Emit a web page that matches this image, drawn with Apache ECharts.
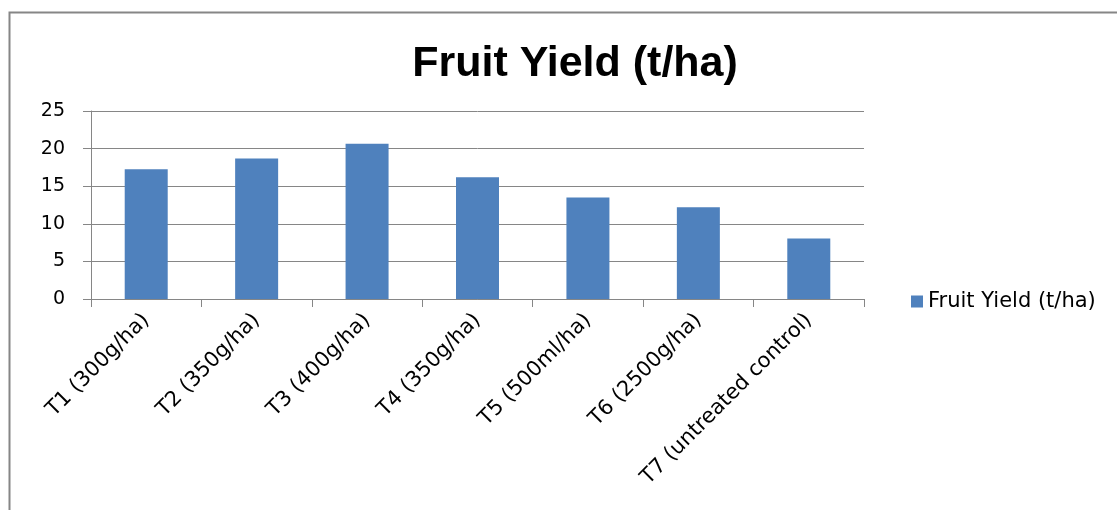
<!DOCTYPE html>
<html>
<head>
<meta charset="utf-8">
<style>
html,body{margin:0;padding:0;background:#fff;}
#chart{width:1117px;height:510px;}
</style>
<script src="https://cdn.jsdelivr.net/npm/echarts@6/dist/echarts.min.js"></script>
</head>
<body>
<div id="chart"></div>
<script>
var titleText = 'Fruit Yield (t/ha)';
var seriesName = 'Fruit Yield (t/ha)';
var categories = ['T1 (300g/ha)', 'T2 (350g/ha)', 'T3 (400g/ha)', 'T4 (350g/ha)', 'T5 (500ml/ha)', 'T6 (2500g/ha)', 'T7 (untreated control)'];
var yieldValues = [17.25, 18.7, 20.65, 16.2, 13.5, 12.2, 8.05];
var yTicks = [0, 5, 10, 15, 20, 25];

var FONT = 'DejaVu Sans';
var chart = echarts.init(document.getElementById('chart'));
chart.setOption({
  animation: false,
  backgroundColor: '#ffffff',
  graphic: [{
    type: 'rect',
    shape: {x: 9.5, y: 12.5, width: 1200, height: 600},
    style: {fill: 'none', stroke: '#868686', lineWidth: 2},
    silent: true
  }],
  title: {
    text: titleText,
    left: 570,
    textAlign: 'center',
    top: 38,
    textStyle: {fontFamily: 'Liberation Sans', fontWeight: 'bold', fontSize: 43, color: '#000'}
  },
  legend: {
    data: [seriesName],
    left: 906,
    top: 286,
    itemWidth: 12,
    itemHeight: 12,
    itemGap: 8,
    icon: 'rect',
    textStyle: {fontFamily: FONT, fontSize: 21, color: '#000'}
  },
  grid: {left: 91, right: 253, top: 111, bottom: 211, containLabel: false},
  xAxis: {
    type: 'category',
    data: categories,
    axisLine: {lineStyle: {color: '#868686', width: 1}},
    axisTick: {show: true, length: 8, lineStyle: {color: '#868686'}},
    axisLabel: {rotate: 45, margin: 18, fontFamily: FONT, fontSize: 21, color: '#000', interval: 0}
  },
  yAxis: {
    type: 'value',
    min: yTicks[0],
    max: yTicks[yTicks.length - 1],
    interval: 5,
    axisLine: {show: true, lineStyle: {color: '#868686', width: 1}},
    axisTick: {show: true, length: 8, lineStyle: {color: '#868686'}},
    axisLabel: {margin: 26, fontFamily: FONT, fontSize: 19, color: '#000'},
    splitLine: {show: true, lineStyle: {color: '#868686', width: 1}}
  },
  series: [{
    name: seriesName,
    type: 'bar',
    data: yieldValues,
    barWidth: 43,
    itemStyle: {color: '#4F81BD'}
  }]
});
</script>
</body>
</html>
